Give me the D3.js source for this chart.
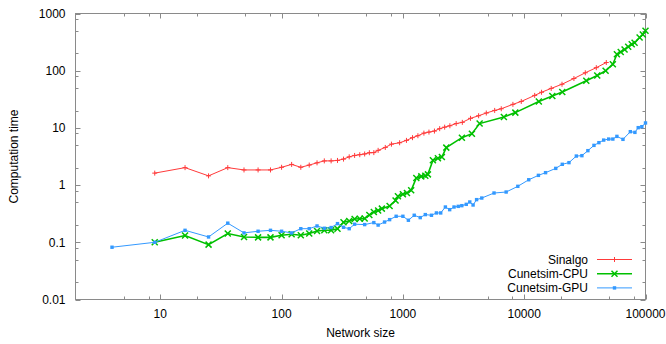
<!DOCTYPE html>
<html>
<head>
<meta charset="utf-8">
<script src="https://cdn.jsdelivr.net/npm/d3@7"></script>
<style>
  body { margin: 0; background: #fff; }
  text { font-family: "Liberation Sans", Arial, sans-serif; font-size: 12px; fill: #000; }
</style>
</head>
<body>
<div id="chart"></div>
<script>
// ---- data (network size -> computation time) ----
const sinalgoSizes = [9, 16, 25, 36, 49, 64, 81, 100, 121, 144, 169, 196, 225, 256, 289, 324, 361, 400, 441, 484,
  529, 576, 625, 716, 805, 940, 1070, 1200, 1330, 1490, 1640, 1820, 2010, 2210, 2440, 2750, 3090, 3610, 4210,
  4870, 5710, 6470, 8070, 9460, 12200, 13900, 16700, 20500, 25700, 31900, 39300, 47500];
const sinalgoTimes = [1.62, 2.02, 1.45, 2.02, 1.84, 1.84, 1.84, 2.05, 2.3, 2.05, 2.24, 2.45, 2.65, 2.65, 2.7, 2.85,
  3.12, 3.3, 3.4, 3.5, 3.68, 3.7, 4.05, 4.55, 5.2, 5.5, 6.05, 6.75, 7.3, 8.1, 8.45, 8.8, 9.7, 10.3, 10.9, 11.9,
  12.5, 14.7, 16.3, 18.2, 20.2, 21.6, 25.8, 29, 37, 42, 49, 58, 73, 92, 113, 139];

const cpuSizes = [9, 16, 25, 36, 49, 64, 81, 100, 121, 144, 169, 196, 225, 256, 289, 324, 361, 400, 441, 484,
  529, 576, 625, 671, 777, 870, 910, 1000, 1080, 1170, 1290, 1418, 1530, 1607, 1767, 1944, 2096, 2280, 3064,
  3705, 4290, 6800, 8450, 13200, 17060, 20600, 32500, 40000, 46900, 53800, 58100, 62500, 67200, 72000, 77000,
  81300, 89400, 95000, 100000];
const cpuTimes = [0.1, 0.131, 0.091, 0.142, 0.124, 0.122, 0.122, 0.133, 0.138, 0.133, 0.142, 0.158, 0.162, 0.162,
  0.173, 0.224, 0.236, 0.256, 0.258, 0.26, 0.3, 0.339, 0.36, 0.388, 0.43, 0.54, 0.637, 0.69, 0.73, 0.81, 1.33,
  1.42, 1.46, 1.54, 2.71, 2.94, 3.09, 4.52, 6.75, 7.93, 11.9, 15.5, 18.5, 29, 36, 42.3, 66.8, 82.6, 99.7, 130,
  194, 212, 235, 262, 290, 308, 381, 430, 500];

const gpuSizes = [4, 9, 16, 25, 36, 49, 64, 81, 100, 121, 144, 169, 196, 225, 256, 289, 324, 361, 400, 484, 576,
  625, 706, 777, 880, 1000, 1110, 1240, 1390, 1530, 1720, 1890, 2050, 2240, 2430, 2640, 2860, 3060, 3330, 3560,
  3790, 4050, 4470, 5640, 7100, 8860, 10900, 13100, 15000, 18200, 20600, 23400, 26900, 29900, 33500, 37600,
  41300, 45200, 49700, 53800, 58100, 65200, 75000, 81800, 87100, 93300, 100000];
const gpuTimes = [0.082, 0.1, 0.162, 0.124, 0.216, 0.146, 0.156, 0.162, 0.156, 0.146, 0.173, 0.173, 0.193, 0.176,
  0.181, 0.212, 0.183, 0.173, 0.207, 0.204, 0.221, 0.2, 0.226, 0.249, 0.285, 0.285, 0.243, 0.297, 0.27, 0.305,
  0.297, 0.326, 0.326, 0.414, 0.372, 0.414, 0.425, 0.437, 0.461, 0.507, 0.449, 0.557, 0.594, 0.727, 0.757, 0.952,
  1.24, 1.48, 1.65, 1.96, 2.31, 2.47, 3.22, 3.27, 4.0, 4.95, 5.52, 6.12, 6.38, 6.38, 7.11, 6.31, 8.59, 8.35,
  10.1, 10.5, 12.2];

const xTicks = [10, 100, 1000, 10000, 100000];
const yTicks = [0.01, 0.1, 1, 10, 100, 1000];
const minorSteps = [2, 5, 8];

const series = [
  { name: 'Sinalgo', sizes: sinalgoSizes, times: sinalgoTimes, color: '#ff3a3a', width: 1, marker: 'plus' },
  { name: 'Cunetsim-CPU', sizes: cpuSizes, times: cpuTimes, color: '#00c000', width: 1.6, marker: 'cross' },
  { name: 'Cunetsim-GPU', sizes: gpuSizes, times: gpuTimes, color: '#3399ff', width: 1, marker: 'square' }
];

// ---- layout ----
const width = 666, height = 344;
const margin = { left: 75.5, right: 20.5, top: 13.5, bottom: 44.5 };
const axisColor = '#8a8a8a';

const svg = d3.select('#chart')
  .append('svg')
  .attr('width', width)
  .attr('height', height);

const x = d3.scaleLog()
  .domain([2, 100000])
  .range([margin.left, width - margin.right]);
const y = d3.scaleLog()
  .domain([0.01, 1000])
  .range([height - margin.bottom, margin.top]);

const [x0, x1] = x.range();
const [y0, y1] = y.range();

// minor tick values for each axis
const minors = (lo, hi) => {
  const out = [];
  for (let e = Math.floor(Math.log10(lo)); e <= Math.ceil(Math.log10(hi)); e++) {
    minorSteps.forEach(m => {
      const v = m * Math.pow(10, e);
      if (v > lo && v < hi) out.push(v);
    });
  }
  return out;
};
const xMinor = minors(2, 100000);
const yMinor = minors(0.01, 1000);

const ticks = svg.append('g')
  .attr('stroke', axisColor)
  .attr('stroke-width', 1);

// x ticks, bottom and top, pointing inward
xTicks.concat(xMinor).forEach(v => {
  const len = xTicks.includes(v) ? 5 : 3;
  const px = Math.round(x(v)) + 0.5;
  ticks.append('line').attr('x1', px).attr('x2', px).attr('y1', y0).attr('y2', y0 - len);
  ticks.append('line').attr('x1', px).attr('x2', px).attr('y1', y1).attr('y2', y1 + len);
});
// y ticks, left and right
yTicks.concat(yMinor).forEach(v => {
  const len = yTicks.includes(v) ? 5 : 3;
  const py = Math.round(y(v)) + 0.5;
  ticks.append('line').attr('x1', x0).attr('x2', x0 + len).attr('y1', py).attr('y2', py);
  ticks.append('line').attr('x1', x1).attr('x2', x1 - len).attr('y1', py).attr('y2', py);
});

// frame
svg.append('rect')
  .attr('x', x0)
  .attr('y', y1)
  .attr('width', x1 - x0)
  .attr('height', y0 - y1)
  .attr('fill', 'none')
  .attr('stroke', axisColor);

// tick labels
svg.append('g').selectAll('text')
  .data(xTicks)
  .join('text')
  .attr('x', d => x(d))
  .attr('y', y0 + 18)
  .attr('text-anchor', 'middle')
  .text(d => d);

svg.append('g').selectAll('text')
  .data(yTicks)
  .join('text')
  .attr('x', x0 - 10)
  .attr('y', d => y(d))
  .attr('dy', '0.35em')
  .attr('text-anchor', 'end')
  .text(d => d);

// axis titles
svg.append('text')
  .attr('x', (x0 + x1) / 2)
  .attr('y', 337)
  .attr('text-anchor', 'middle')
  .text('Network size');

svg.append('text')
  .attr('transform', `translate(18,${(y0 + y1) / 2}) rotate(-90)`)
  .attr('text-anchor', 'middle')
  .text('Computation time');

// marker shapes
const drawMarker = (g, type, cx, cy, color) => {
  if (type === 'plus') {
    g.append('path')
      .attr('d', `M${cx - 2.5},${cy}H${cx + 2.5}M${cx},${cy - 2.5}V${cy + 2.5}`)
      .attr('stroke', color).attr('stroke-width', 1);
  } else if (type === 'cross') {
    g.append('path')
      .attr('d', `M${cx - 3},${cy - 3}L${cx + 3},${cy + 3}M${cx - 3},${cy + 3}L${cx + 3},${cy - 3}`)
      .attr('stroke', color).attr('stroke-width', 1.5);
  } else {
    g.append('rect')
      .attr('x', cx - 1.7).attr('y', cy - 1.7)
      .attr('width', 3.4).attr('height', 3.4)
      .attr('fill', color);
  }
};

const line = d3.line()
  .x(d => x(d[0]))
  .y(d => y(d[1]));

// draw series
series.forEach(s => {
  const pts = s.sizes.map((n, i) => [n, s.times[i]]);
  const g = svg.append('g');
  g.append('path')
    .datum(pts)
    .attr('d', line)
    .attr('fill', 'none')
    .attr('stroke', s.color)
    .attr('stroke-width', s.width);
  pts.forEach(p => drawMarker(g, s.marker, x(p[0]), y(p[1]), s.color));
});

// legend, bottom right
const legend = svg.append('g');
series.forEach((s, i) => {
  const ly = 259.5 + i * 14.2;
  legend.append('text')
    .attr('x', 588)
    .attr('y', ly)
    .attr('dy', '0.35em')
    .attr('text-anchor', 'end')
    .text(s.name);
  legend.append('line')
    .attr('x1', 597).attr('x2', 632)
    .attr('y1', ly).attr('y2', ly)
    .attr('stroke', s.color)
    .attr('stroke-width', s.width);
  drawMarker(legend, s.marker, 614.5, ly, s.color);
});
</script>
</body>
</html>
